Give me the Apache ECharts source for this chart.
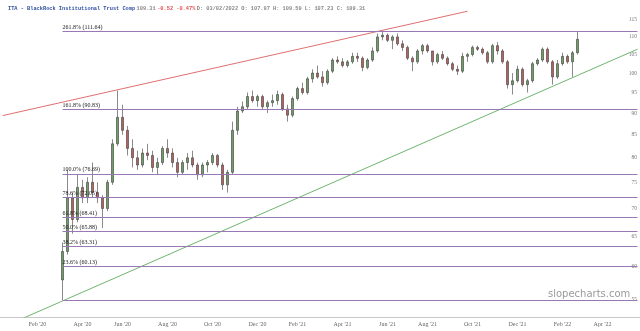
<!DOCTYPE html>
<html>
<head>
<meta charset="utf-8">
<script src="https://cdn.jsdelivr.net/npm/echarts@6/dist/echarts.min.js"></script>
<style>
html, body { margin: 0; padding: 0; background: #fff; }
#main { width: 640px; height: 331px; }
</style>
</head>
<body>
<div id="main"></div>
<script>
// weekly bars, week 0 starts Mon 16 Dec 2019
var firstMonday = new Date(2019, 11, 16);
var weekCount = 128;
var firstBar = 12;

var opens  = [58,62.5,72,68,74,72,75,73,72,70,75,83,89,86,82,80,78.5,81,80.5,78,79,82,81,79,77,79,80,78.5,
              76.5,78.5,79,80.5,78.5,74.5,77,86,90.5,91.5,94,93,94,91.5,92.5,93,94.5,91,89.5,93.5,96,95,98.5,100,99,97.5,
              100.5,103.5,103,102,103,104.5,104,101.5,103.5,106,110,110.5,109,110,108,107,104,103,106,107.5,106,103,105,104,
              102.5,101,100.5,104.5,105,107,106.5,105.5,103,107.5,106,103,97,98,101,97,98,102.5,103.5,106.5,103,99,102.5,104.5,103,105.5];
var highs  = [64,77.5,73,76.5,75.5,76,79,75,72.5,75.5,84,95.5,92,87,84,81.5,82,83,81.5,80,82.5,84,82,80,79.5,81,81.5,79,
              79,79.5,81,80.8,79,77.5,88,91.5,92.8,95,95.5,94.5,94.5,93,94.5,95.5,95,92,94,96.5,97.5,99,101,102,100.5,101,
              104,104.5,104,103.5,105.5,105.5,104.5,104,107,111,111.8,111,110.5,111,109,107.5,104.5,106.5,108,108,106,105.5,106,104.5,
              103,102,105.5,105.5,107.5,107.5,107,106,108,108.5,106.5,103.5,100,102,101.5,98.5,103,104,107,107,103.5,103.5,105.5,105,106,111.6];
var lows   = [55,62,65.5,67.5,71,71,72,71,66.5,69.5,74.5,82.5,85,80.5,78,77.5,78,79.5,77,76.5,78.5,80,78,76,76.5,77.5,78,75.5,
              76,77,78.5,78,73.5,73,76.5,85,90,91,92.5,91.5,91,90,91.5,92,90.5,88,89,93,94.5,94.5,97.5,98.5,96.5,97,
              100,102.5,101.5,101.5,102.5,103,100.5,101,103,105.5,109,108.5,106.5,107.5,106,103.5,100.5,102.5,105,105.5,102,102.5,103.5,102,
              100.5,99.5,100,103,104.5,106,105,102.5,102.5,105,102.5,96,94.5,97.5,96.5,95,97.5,102,103,102.5,97,98.5,102,102.5,99,105];
var closes = [62.5,72,68,74,72,75,73,72,70,75,83,89,86,82,80,78.5,81,80.5,78,79,82,81,79,77,79,80,78.5,76.5,
              78.5,79,80.5,78.5,74.5,77,86,90.5,91.5,94,93,94,91.5,92.5,93,94.5,91,89.5,93.5,96,95,98.5,100,99,97.5,100.5,
              103.5,103,102,103,104.5,104,101.5,103.5,106,110,110.5,109,110,108,107,104,103,106,107.5,106,103,105,104,102.5,
              101,100.5,104.5,105,107,106.5,105.5,103,107.5,106,103,97,98,101,97,98,102.5,103.5,106.5,103,99,102.5,104.5,103,105.5,109.31];

var yTicks = [55, 60, 65, 70, 75, 80, 85, 90, 95, 100, 105, 110, 115];
var fibValues = [111.64, 90.83, 76.69, 72.05, 68.41, 65.88, 63.31, 60.13, 55.0];
var fibNames  = ['261.8% (111.64)', '161.8% (90.83)', '100.0% (76.69)', '78.6% (72.05)', '61.8% (68.41)',
                 '50.0% (65.88)', '38.2% (63.31)', '23.6% (60.13)', ''];
// trend lines as [week index, price]
var redLine   = [[0, 89.4], [93, 117.7]];
var greenLine = [[0, 51.2], [127, 106.5]];

var monthNames = ['Jan','Feb','Mar','Apr','May','Jun','Jul','Aug','Sep','Oct','Nov','Dec'];
var weeks = [];
for (var i = 0; i < weekCount; i++) {
  var d = new Date(firstMonday.getTime());
  d.setDate(d.getDate() + 7 * i);
  weeks.push(d);
}
var categories = weeks.map(function (d) {
  return d.getFullYear() + '-' + (d.getMonth() + 1) + '-' + d.getDate();
});
function isLabelWeek(idx) {
  if (idx === 0) return false;
  var d = weeks[idx], p = weeks[idx - 1];
  return d.getMonth() !== p.getMonth() && d.getMonth() % 2 === 1;
}

var candles = [];
for (var i = 0; i < weekCount; i++) {
  var k = i - firstBar;
  if (k >= 0 && k < closes.length) {
    candles.push([opens[k], closes[k], lows[k], highs[k]]);
  } else {
    candles.push('-');
  }
}

var fibData = fibValues.map(function (v, k) {
  return [{ coord: [firstBar, v], name: fibNames[k] }, { coord: [weekCount - 1, v] }];
});

var myChart = echarts.init(document.getElementById('main'));
var option = {
  animation: false,
  backgroundColor: '#fff',
  title: {
    left: 3, top: 1,
    text: '{a|ITA - BlackRock Institutional Trust Comp} {b|109.31} {c|-0.52 -0.47%} {b|D: 03/02/2022 O: 107.97 H: 109.59 L: 107.23 C: 109.31}',
    textStyle: {
      fontSize: 5.3,
      rich: {
        a: { fontFamily: 'Liberation Mono', fontSize: 5.3, color: '#3050a0' },
        b: { fontFamily: 'Liberation Mono', fontSize: 5.3, color: '#888' },
        c: { fontFamily: 'Liberation Mono', fontSize: 5.3, color: '#e05050' }
      }
    }
  },
  grid: { left: 0, right: 0, top: 8, bottom: 14 },
  xAxis: {
    type: 'category',
    data: categories,
    boundaryGap: true,
    axisLine: { lineStyle: { color: '#c8c8c8' } },
    axisTick: { show: false },
    splitLine: { show: false },
    axisLabel: {
      interval: function (idx) { return isLabelWeek(idx); },
      formatter: function (v, idx) {
        var d = weeks[idx];
        return monthNames[d.getMonth()] + " '" + String(d.getFullYear()).slice(2);
      },
      fontSize: 6, fontFamily: 'Liberation Serif', color: '#666', margin: 4
    }
  },
  yAxis: {
    type: 'log',
    position: 'right',
    min: 52.6,
    max: 118.7,
    axisLine: { show: false },
    axisTick: { show: false },
    splitLine: { show: false },
    axisLabel: {
      inside: true,
      customValues: yTicks,
      fontSize: 5.5, fontFamily: 'Liberation Serif', color: '#777', margin: 3
    }
  },
  series: [
    {
      type: 'candlestick',
      data: candles,
      barWidth: 2.4,
      itemStyle: {
        color: '#6f9e62', color0: '#b86060',
        borderColor: '#3a3a3a', borderColor0: '#3a3a3a', borderWidth: 0.6
      },
      markLine: {
        silent: true,
        symbol: ['none', 'none'],
        lineStyle: { color: '#9a78b4', width: 1, type: 'solid' },
        label: {
          position: 'insideStartTop',
          formatter: '{b}',
          fontSize: 6, fontFamily: 'Liberation Serif', color: '#222',
          distance: [0, 1]
        },
        data: fibData
      }
    },
    {
      type: 'line', data: redLine, symbol: 'none', silent: true,
      lineStyle: { color: '#e07070', width: 1 }
    },
    {
      type: 'line', data: greenLine, symbol: 'none', silent: true,
      lineStyle: { color: '#6fb56f', width: 1 }
    }
  ],
  graphic: [{
    type: 'text', left: 548, top: 289,
    style: { text: 'slopecharts.com', fontSize: 10, fontFamily: 'DejaVu Sans', fill: '#9a9a9a' }
  }]
};
myChart.setOption(option);
window.onresize = function () { myChart.resize(); };
</script>
</body>
</html>
